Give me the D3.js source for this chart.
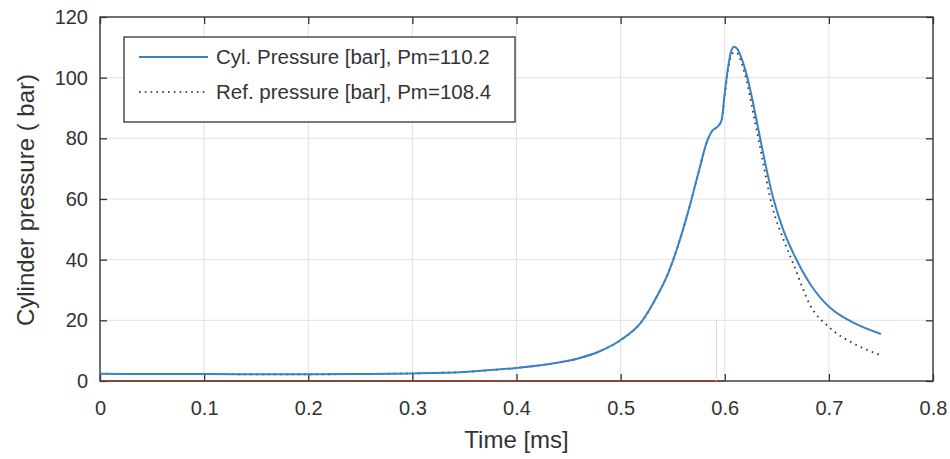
<!DOCTYPE html>
<html>
<head>
<meta charset="utf-8">
<script src="https://cdn.jsdelivr.net/npm/d3@7"></script>
<style>
  body { margin: 0; background: #fff; }
  text { font-family: "Liberation Sans", Arial, sans-serif; fill: #333; }
</style>
</head>
<body>
<svg id="chart" width="950" height="459"></svg>
<script>
// values
var timeMs = [0, 0.05, 0.1, 0.15, 0.2, 0.25, 0.3, 0.35, 0.4, 0.43, 0.46, 0.48, 0.5, 0.52, 0.535, 0.545,
  0.555, 0.565, 0.575, 0.583, 0.588, 0.593, 0.597, 0.6, 0.603, 0.606, 0.609, 0.612, 0.616, 0.621, 0.627,
  0.634, 0.646, 0.656, 0.666, 0.682, 0.701, 0.723, 0.75];
var cylPressure = [2.4, 2.3, 2.3, 2.2, 2.2, 2.3, 2.5, 3.0, 4.3, 5.5, 7.5, 9.8, 13.5, 19.5, 28, 35,
  44.5, 56, 69, 79, 82.5, 83.8, 86, 95, 103, 108.5, 110.2, 109.5, 106.5, 101, 92,
  80, 61, 50, 42, 32, 24.2, 19.3, 15.5];
var refPressure = [2.4, 2.3, 2.3, 2.2, 2.2, 2.3, 2.5, 3.0, 4.3, 5.5, 7.5, 9.8, 13.5, 19.5, 28, 35,
  44.5, 56, 69, 79, 82.5, 83.8, 86, 94, 102, 107, 108.4, 108, 105, 99, 89,
  77, 57, 47, 38.5, 25, 17.5, 12.5, 8.5];
var xTicks = [0, 0.1, 0.2, 0.3, 0.4, 0.5, 0.6, 0.7, 0.8];
var yTicks = [0, 20, 40, 60, 80, 100, 120];
var legendLabels = ["Cyl. Pressure [bar], Pm=110.2", "Ref. pressure [bar], Pm=108.4"];

var svg = d3.select("#chart");
var x = d3.scaleLinear().domain([0, 0.8]).range([100, 933]);
var y = d3.scaleLinear().domain([0, 120]).range([381, 17]);

// grid
svg.append("g").selectAll("line").data(xTicks.slice(1, -1)).enter().append("line")
  .attr("x1", d => x(d)).attr("x2", d => x(d)).attr("y1", y(120)).attr("y2", y(0))
  .attr("stroke", "#e2e2e2").attr("stroke-width", 1);
svg.append("g").selectAll("line").data(yTicks.slice(1, -1)).enter().append("line")
  .attr("x1", x(0)).attr("x2", x(0.8)).attr("y1", d => y(d)).attr("y2", d => y(d))
  .attr("stroke", "#e2e2e2").attr("stroke-width", 1);

// axes, ticks inward on all sides
var fmt = d => d === 0 ? "0" : String(d);
svg.append("g").attr("transform", "translate(0," + y(0) + ")")
  .call(d3.axisBottom(x).tickValues(xTicks).tickFormat(fmt).tickSizeInner(-7).tickSizeOuter(0).tickPadding(20));
svg.append("g").attr("transform", "translate(" + x(0) + ",0)")
  .call(d3.axisLeft(y).tickValues(yTicks).tickSizeInner(-7).tickSizeOuter(0).tickPadding(12));
svg.append("g").attr("transform", "translate(0," + y(120) + ")")
  .call(d3.axisTop(x).tickValues(xTicks).tickFormat("").tickSizeInner(-7).tickSizeOuter(0));
svg.append("g").attr("transform", "translate(" + x(0.8) + ",0)")
  .call(d3.axisRight(y).tickValues(yTicks).tickFormat("").tickSizeInner(-7).tickSizeOuter(0));
svg.selectAll(".domain").remove();
svg.selectAll(".tick line").attr("stroke", "#333").attr("stroke-width", 1.3);
svg.selectAll(".tick text").attr("font-size", 20).attr("fill", "#333")
  .attr("font-family", "Liberation Sans, Arial, sans-serif");

svg.append("rect").attr("x", x(0)).attr("y", y(120))
  .attr("width", x(0.8) - x(0)).attr("height", y(0) - y(120))
  .attr("fill", "none").attr("stroke", "#333").attr("stroke-width", 1.4);

// faint red zero trace and marker
svg.append("line").attr("x1", x(0)).attr("x2", x(0.6)).attr("y1", y(0)).attr("y2", y(0))
  .attr("stroke", "#8a3a2a").attr("stroke-width", 1.4);
svg.append("line").attr("x1", x(0.592)).attr("x2", x(0.592)).attr("y1", y(0)).attr("y2", y(20))
  .attr("stroke", "#f2cccc").attr("stroke-width", 1);

var line = d3.line().x((d, i) => x(timeMs[i])).y(d => y(d)).curve(d3.curveMonotoneX);

svg.append("path").datum(refPressure).attr("d", line)
  .attr("fill", "none").attr("stroke", "#333").attr("stroke-width", 1.8)
  .attr("stroke-dasharray", "1.6,4.4");
svg.append("path").datum(cylPressure).attr("d", line)
  .attr("fill", "none").attr("stroke", "#3a82c4").attr("stroke-width", 2);

// legend
var lg = svg.append("g");
lg.append("rect").attr("x", 124).attr("y", 37).attr("width", 391).attr("height", 85)
  .attr("fill", "#fff").attr("stroke", "#333").attr("stroke-width", 1.3);
lg.append("line").attr("x1", 139).attr("x2", 208).attr("y1", 57).attr("y2", 57)
  .attr("stroke", "#3a82c4").attr("stroke-width", 2);
lg.append("line").attr("x1", 139).attr("x2", 208).attr("y1", 92).attr("y2", 92)
  .attr("stroke", "#555").attr("stroke-width", 1.8).attr("stroke-dasharray", "1.6,4.2");
lg.selectAll("text.leg").data(legendLabels).enter().append("text")
  .attr("x", 216).attr("y", (d, i) => 64 + i * 35)
  .attr("font-size", 20.5).text(d => d);

// axis titles
svg.append("text").attr("x", x(0.4)).attr("y", 448).attr("text-anchor", "middle")
  .attr("font-size", 24).text("Time [ms]");
svg.append("text").attr("transform", "translate(34,200) rotate(-90)").attr("text-anchor", "middle")
  .attr("font-size", 24).text("Cylinder pressure ( bar)");
</script>
</body>
</html>
